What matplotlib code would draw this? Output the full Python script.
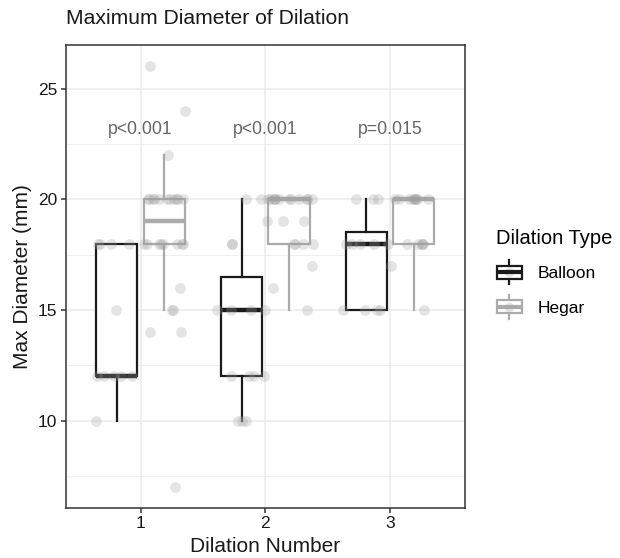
import matplotlib
matplotlib.use("Agg")
import matplotlib.pyplot as plt
from matplotlib.legend_handler import HandlerBase
from matplotlib.lines import Line2D
from matplotlib.patches import Rectangle
import numpy as np

plt.rcParams['font.family'] = ['Liberation Sans', 'DejaVu Sans']

# Data (mm), per dilation number and type
dilations = [1, 2, 3]
balloon = [
    [10, 12, 12, 12, 12, 12, 15, 18, 18, 18, 18],
    [10, 10, 10, 12, 12, 12, 12, 15, 15, 15, 15, 18, 18, 20, 20],
    [15, 15, 15, 15, 18, 18, 18, 18, 18, 20, 20, 20],
]
hegar = [
    [7, 14, 14, 15, 15, 16, 18, 18, 18, 18, 18, 18, 18, 18,
     20, 20, 20, 20, 20, 20, 20, 20, 20, 20, 20, 22, 24, 26],
    [15, 16, 17, 18, 18, 18, 18, 19, 19, 19,
     20, 20, 20, 20, 20, 20, 20, 20, 20, 20, 20, 20],
    [15, 17, 18, 18, 18, 18, 18, 20, 20, 20, 20, 20, 20, 20, 20, 20],
]
p_labels = ["p<0.001", "p<0.001", "p=0.015"]
type_names = ["Balloon", "Hegar"]
type_colors = ["#1a1a1a", "#ababab"]

fig = plt.figure(figsize=(6.2, 5.58), dpi=100)
ax = fig.add_axes([0.106, 0.0896, 0.644, 0.829])

offset, bw = 0.19, 0.33
rng = np.random.default_rng(3)
for k, (groups, col) in enumerate(zip([balloon, hegar], type_colors)):
    pos = [d + (2 * k - 1) * offset for d in dilations]
    ax.boxplot(groups, positions=pos, widths=bw, whis=1.5, showfliers=False,
               showcaps=False, patch_artist=True, manage_ticks=False,
               boxprops=dict(facecolor='white', edgecolor=col, linewidth=1.6),
               whiskerprops=dict(color=col, linewidth=1.6),
               medianprops=dict(color=col, linewidth=3.2, solid_capstyle='butt'),
               zorder=2)
    for p, vals in zip(pos, groups):
        xj = p + rng.uniform(-0.2, 0.2, len(vals))
        ax.scatter(xj, vals, s=60, color='#a0a0a0', alpha=0.28,
                   linewidths=0, zorder=3)

for d, lab in zip(dilations, p_labels):
    ax.text(d, 23.15, lab, ha='center', va='center', fontsize=12.7, color='#666666')

ax.set_xlim(0.4, 3.6)
ax.set_ylim(6.05, 26.95)
ax.set_xticks(dilations)
ax.set_yticks([10, 15, 20, 25])
ax.set_yticks([7.5, 12.5, 17.5, 22.5], minor=True)
ax.grid(True, which='major', color='#ebebeb', linewidth=1.1, zorder=0)
ax.grid(True, which='minor', axis='y', color='#ebebeb', linewidth=0.55, zorder=0)
ax.set_axisbelow(True)
ax.tick_params(axis='both', which='major', length=3.5, width=1.1, color='#333333',
               labelsize=12.5, labelcolor='#1a1a1a', pad=2.5)
ax.tick_params(axis='y', which='minor', length=0)
for sp in ax.spines.values():
    sp.set_color('#333333')
    sp.set_linewidth(1.1)

ax.set_xlabel("Dilation Number", fontsize=15, color='#1a1a1a', labelpad=4)
ax.set_ylabel("Max Diameter (mm)", fontsize=15, color='#1a1a1a', labelpad=4)
fig.text(0.106, 0.966, "Maximum Diameter of Dilation", fontsize=15.2,
         color='#1a1a1a', ha='left', va='center')


class BoxKey(HandlerBase):
    def create_artists(self, legend, orig_handle, xdescent, ydescent,
                       width, height, fontsize, trans):
        col = orig_handle.get_color()
        cx = width / 2 - xdescent
        y0, y1 = -ydescent, height - ydescent
        whisk = Line2D([cx, cx], [y0 - 0.05 * height, y1 + 0.05 * height],
                       color=col, linewidth=1.6, transform=trans)
        box = Rectangle((-xdescent + 0.04 * width, y0 + 0.2 * height),
                        0.92 * width, 0.6 * height, facecolor='white',
                        edgecolor=col, linewidth=1.6, transform=trans)
        dot = Line2D([cx], [(y0 + y1) / 2], marker='o', markersize=7,
                     color='#a0a0a0', alpha=0.28, linestyle='none',
                     markeredgewidth=0, transform=trans)
        med = Line2D([-xdescent + 0.04 * width, -xdescent + 0.96 * width],
                     [(y0 + y1) / 2] * 2, color=col, linewidth=3,
                     solid_capstyle='butt', transform=trans)
        return [whisk, box, dot, med]


handles = [Line2D([], [], color=c) for c in type_colors]
leg = fig.legend(handles, type_names, title="Dilation Type",
                 loc='center left', bbox_to_anchor=(0.80, 0.51),
                 frameon=False, fontsize=12.5, title_fontsize=14.5,
                 handler_map={Line2D: BoxKey()}, handlelength=1.55,
                 handleheight=1.55, labelspacing=0.75, handletextpad=0.85,
                 alignment='left', borderaxespad=0, borderpad=0)

fig.savefig("out.png", dpi=100)
